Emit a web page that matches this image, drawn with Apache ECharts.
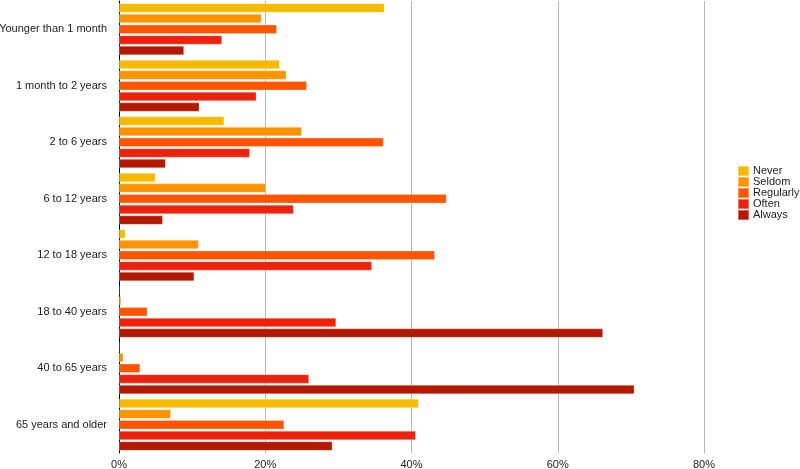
<!DOCTYPE html>
<html>
<head>
<meta charset="utf-8">
<script src="https://cdn.jsdelivr.net/npm/echarts@6/dist/echarts.min.js"></script>
<style>html,body{margin:0;padding:0;background:#fff;}#c{width:800px;height:469px;}</style>
</head>
<body>
<div id="c"></div>
<script>
var categories = ["Younger than 1 month", "1 month to 2 years", "2 to 6 years", "6 to 12 years", "12 to 18 years", "18 to 40 years", "40 to 65 years", "65 years and older"];
var seriesNames = ["Never", "Seldom", "Regularly", "Often", "Always"];
var never     = [36.3, 22.0, 14.4, 5.0, 0.9, 0.0, 0.0, 41.0];
var seldom    = [19.5, 22.9, 25.0, 20.1, 10.9, 0.3, 0.6, 7.1];
var regularly = [21.6, 25.7, 36.2, 44.8, 43.2, 3.9, 2.9, 22.6];
var often     = [14.1, 18.8, 17.9, 23.9, 34.6, 29.7, 26.0, 40.6];
var always    = [8.9, 11.0, 6.4, 6.0, 10.3, 66.2, 70.5, 29.2];
var xTicks = [0, 20, 40, 60, 80];
var colors = ["#F8BA00", "#FF9300", "#FF5500", "#EE220C", "#B51800"];

var values = [never, seldom, regularly, often, always];
var chart = echarts.init(document.getElementById('c'), null, {renderer: 'canvas'});
var font = "'Liberation Sans', Arial, Helvetica, sans-serif";
var series = seriesNames.map(function (n, i) {
  return {
    name: n,
    type: 'bar',
    data: values[i],
    barCategoryGap: '8%',
    barGap: '15%',
    itemStyle: {color: colors[i], borderColor: 'rgba(255,255,255,0.35)', borderWidth: 0.8},
    emphasis: {disabled: true},
    animation: false
  };
});
chart.setOption({
  animation: false,
  color: colors,
  grid: {left: 119, right: 96, top: 1, bottom: 16, containLabel: false, outerBoundsMode: 'none'},
  legend: {
    orient: 'vertical',
    left: 737,
    top: 165,
    itemWidth: 11,
    itemHeight: 10,
    itemGap: -1,
    icon: 'rect',
    padding: 0,
    textStyle: {fontFamily: font, fontSize: 11, color: '#222', padding: [0, 0, 0, -1]},
    data: seriesNames
  },
  xAxis: {
    type: 'value',
    min: xTicks[0],
    max: xTicks[xTicks.length - 1],
    interval: xTicks[1] - xTicks[0],
    axisLine: {show: false},
    axisTick: {show: false},
    axisLabel: {formatter: '{value}%', fontFamily: font, fontSize: 11, color: '#222', margin: 6},
    splitLine: {show: true, lineStyle: {color: '#b8b8b8', width: 1}}
  },
  yAxis: {
    type: 'category',
    data: categories,
    inverse: true,
    axisLine: {show: true, lineStyle: {color: '#000', width: 1}},
    axisTick: {show: false},
    axisLabel: {fontFamily: font, fontSize: 11, color: '#222', margin: 12},
    splitLine: {show: false}
  },
  series: series
});
</script>
</body>
</html>
